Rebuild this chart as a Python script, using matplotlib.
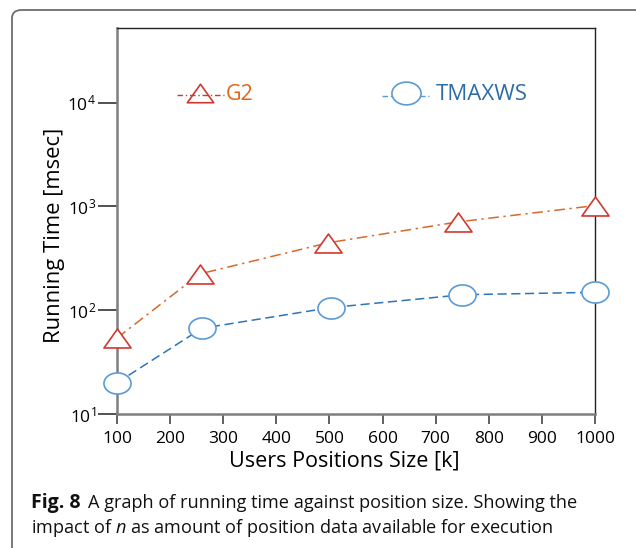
import matplotlib
matplotlib.use("Agg")
import matplotlib.pyplot as plt
import numpy as np
from matplotlib.patches import FancyBboxPatch
from matplotlib.lines import Line2D
from matplotlib.path import Path

x_g2 = [100, 256, 498, 742, 1000]
y_g2 = [54, 224, 447, 710, 1020]
x_tm = [100, 260, 502, 750, 1000]
y_tm = [20, 67, 106, 141, 149]
xticks = [100, 200, 300, 400, 500, 600, 700, 800, 900, 1000]
yticks = [10, 100, 1000, 10000]
ytick_labels = ["$10^1$", "$10^2$", "$10^3$", "$10^4$"]

plt.rcParams['font.family'] = ['Open Sans', 'DejaVu Sans']
plt.rcParams['mathtext.fontset'] = 'custom'
plt.rcParams['mathtext.rm'] = 'Open Sans'
plt.rcParams['mathtext.it'] = 'Open Sans:italic'

# custom marker shapes (wide ellipse, flat triangle)
t = np.linspace(0, 2 * np.pi, 60)
ellipse = Path(np.column_stack([np.cos(t), 0.78 * np.sin(t)]), closed=True)
tri = Path([(-1, -0.7), (1, -0.7), (0, 0.7), (-1, -0.7)], closed=True)

fig = plt.figure(figsize=(6.36, 5.48), dpi=100)
W, H = 636, 548

frame = FancyBboxPatch((12 / W, -0.1), 1.2, (548 - 10) / H + 0.1,
                       boxstyle="round,pad=0,rounding_size=0.015",
                       transform=fig.transFigure, fill=False,
                       edgecolor="#6d6d6d", linewidth=1.3)
fig.patches.append(frame)

L, R, T, B = 117, 595, 28, 414
ax = fig.add_axes([L / W, (H - B) / H, (R - L) / W, (B - T) / H])
ax.set_yscale('log')
ax.set_xlim(100, 1000)
ax.set_ylim(10, 10 ** 4.72)

ax.plot(x_g2, y_g2, linestyle=(0, (7, 3, 1.5, 3)), color="#D9682B", linewidth=1.1,
        marker=tri, markersize=19.5, markerfacecolor='white',
        markeredgecolor="#D03A2E", markeredgewidth=1.2, clip_on=False, zorder=3)
ax.plot(x_tm, y_tm, linestyle=(0, (6, 3)), color="#2E75B6", linewidth=1.1,
        marker=ellipse, markersize=19.5, markerfacecolor='white',
        markeredgecolor="#5B9BD5", markeredgewidth=1.2, clip_on=False, zorder=3)

ax.set_xticks(xticks)
ax.set_xticklabels([str(v) for v in xticks])
ax.set_yticks(yticks)
ax.set_yticklabels(ytick_labels)
ax.yaxis.set_minor_locator(matplotlib.ticker.NullLocator())
ax.tick_params(axis='x', labelsize=12.5, direction='out', length=7.5,
               width=1.2, color="#444444", pad=4.5)
ax.tick_params(axis='y', labelsize=12.5, direction='out', length=13.5,
               width=1.2, color="#333333", pad=1.5)

for s in ['left', 'bottom']:
    ax.spines[s].set_color("#7f7f7f")
    ax.spines[s].set_linewidth(1.8)
for s in ['top', 'right']:
    ax.spines[s].set_color("#222222")
    ax.spines[s].set_linewidth(1.0)

ax.set_xlabel("Users Positions Size [k]", fontsize=15.5)
ax.set_ylabel("Running Time [msec]", fontsize=15.8)
ax.xaxis.set_label_coords((344 - L) / (R - L), (B - 450) / (B - T))
ax.yaxis.set_label_coords((65 - L) / (R - L), (B - 235) / (B - T))

# legend entries (drawn manually)
ly = (H - 95) / H
fig.add_artist(Line2D([177 / W, 224 / W], [ly, ly], transform=fig.transFigure,
                      linestyle=(0, (4, 2, 1, 2)), color="#D03A2E", linewidth=1.0))
fig.add_artist(Line2D([200 / W], [(H - 93) / H], transform=fig.transFigure,
                      marker=tri, markersize=19, markerfacecolor='none',
                      markeredgecolor="#D03A2E", markeredgewidth=1.2, linestyle='none'))
fig.text(226 / W, ly, "G2", color="#E0661A", fontsize=15.5, va='center', ha='left')
fig.add_artist(Line2D([382 / W, 429 / W], [ly - 1 / H, ly - 1 / H], transform=fig.transFigure,
                      linestyle=(0, (4, 2, 1, 2)), color="#5B9BD5", linewidth=1.0))
fig.add_artist(Line2D([405.5 / W], [(H - 93) / H], transform=fig.transFigure,
                      marker=ellipse, markersize=21, markerfacecolor='white',
                      markeredgecolor="#5B9BD5", markeredgewidth=1.2, linestyle='none'))
fig.text(436 / W, ly, "TMAXWS", color="#2E6DA4", fontsize=16, va='center', ha='left')

# caption
fig.text(31 / W, (H - 508) / H, "Fig. 8", fontsize=14, fontweight='bold',
         va='baseline', ha='left', color="#111111")
fig.text(88 / W, (H - 508) / H,
         "A graph of running time against position size. Showing the",
         fontsize=13.1, va='baseline', ha='left', color="#111111")
fig.text(31 / W, (H - 533) / H,
         "impact of $\\mathit{n}$ as amount of position data available for execution",
         fontsize=13.1, va='baseline', ha='left', color="#111111")

fig.savefig("out.png", dpi=100)
